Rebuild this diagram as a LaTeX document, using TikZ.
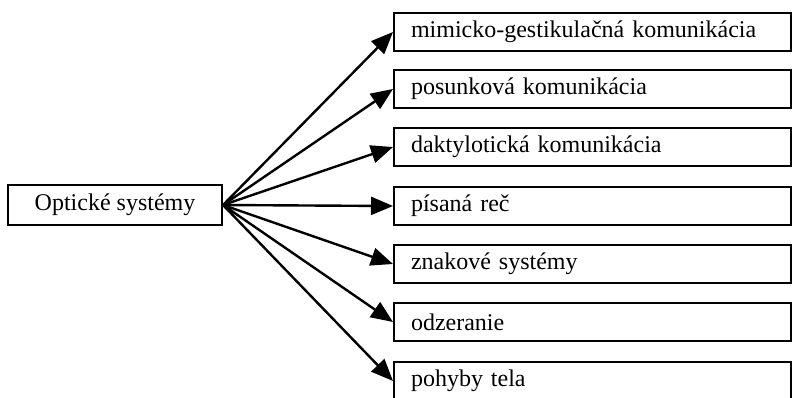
\documentclass[tikz,border=0pt]{standalone}
\usepackage{fontspec}
\setmainfont{Liberation Serif}
\usetikzlibrary{arrows.meta}
\begin{document}
\begin{tikzpicture}[x=1pt,y=-1pt,
  box/.style={draw, line width=2pt, minimum height=38pt, inner xsep=17pt,
    text width=363pt, align=left, anchor=north west,
    font=\fontsize{24}{26}\selectfont},
  rootbox/.style={draw, line width=2pt, minimum height=40pt, minimum width=214pt,
    font=\fontsize{24}{26}\selectfont},
  link/.style={line width=2.4pt, -{Triangle[length=22pt,width=18pt]}}]
\useasboundingbox (0,0) rectangle (792,397);
\node[rootbox] (root) at (115,205) {Optické systémy};
\node[box] (b1) at (393,12)  {mimicko-gestikulačná komunikácia};
\node[box] (b2) at (393,69)  {posunková komunikácia};
\node[box] (b3) at (393,127) {daktylotická komunikácia};
\node[box] (b4) at (393,186) {písaná reč};
\node[box] (b5) at (393,244) {znakové systémy};
\node[box] (b6) at (393,302) {odzeranie};
\node[box] (b7) at (393,361) {pohyby tela};
\foreach \b in {b1,b2,b3,b4,b5,b6,b7}
  \draw[link] (root.east) -- (\b.west);
\end{tikzpicture}
\end{document}
